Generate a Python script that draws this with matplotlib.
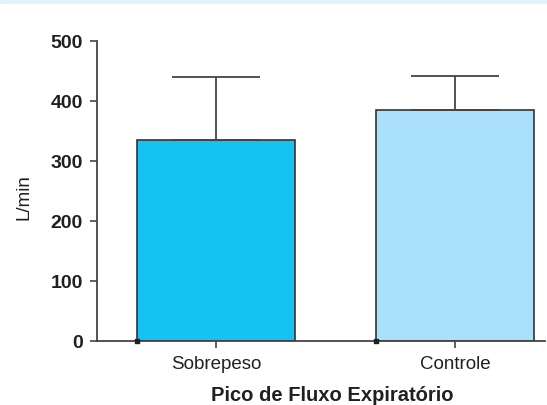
import matplotlib.pyplot as plt
from matplotlib.patches import Rectangle

groups = ['Sobrepeso', 'Controle']
means = [335, 385]
err_upper = [105, 57]
bar_colors = ['#16c2f2', '#aae0fb']

plt.rcParams['font.family'] = ['Liberation Sans', 'DejaVu Sans']

fig = plt.figure(figsize=(5.47, 4.05), dpi=100)
fig.patches.append(Rectangle((0, 1 - 3 / 405), 1, 3 / 405, transform=fig.transFigure,
                             color='#e2f2fb', zorder=0))
ax = fig.add_axes([97 / 547, 64 / 405, 448 / 547, 300 / 405])

x = list(range(len(groups)))
ax.bar(x, means, width=0.66, color=bar_colors, edgecolor='#333333', linewidth=1.2,
       yerr=[[0] * len(means), err_upper], capsize=32,
       error_kw=dict(ecolor='#444444', elinewidth=1.3, capthick=1.3))
# small markers at bar corners, as in the source
ax.scatter([i - 0.33 for i in x], [0] * len(x), marker='s', s=8, color='#222222',
           zorder=5, clip_on=False)

ax.set_xlim(-0.498, 1.377)
ax.set_ylim(0, 500)
ax.set_yticks([0, 100, 200, 300, 400, 500])
ax.set_xticks(x)
ax.set_xticklabels(groups, fontsize=13.5)
for lbl in ax.get_yticklabels():
    lbl.set_fontweight('bold')
    lbl.set_fontsize(14)

ax.spines['top'].set_visible(False)
ax.spines['right'].set_visible(False)
for s in ['left', 'bottom']:
    ax.spines[s].set_color('#444444')
    ax.spines[s].set_linewidth(1.3)
ax.tick_params(axis='both', colors='#444444', labelcolor='#231f20', length=5, width=1.2)
ax.tick_params(axis='y', pad=5)
ax.tick_params(axis='x', pad=6)

ax.set_ylabel('L/min', fontsize=13.5, color='#231f20')
ax.yaxis.set_label_coords(-0.143, 0.48)
ax.set_xlabel('Pico de Fluxo Expiratório', fontsize=14.5, fontweight='bold',
              color='#231f20')
ax.xaxis.set_label_coords(0.525, -0.15)

fig.savefig('out.png', dpi=100)
